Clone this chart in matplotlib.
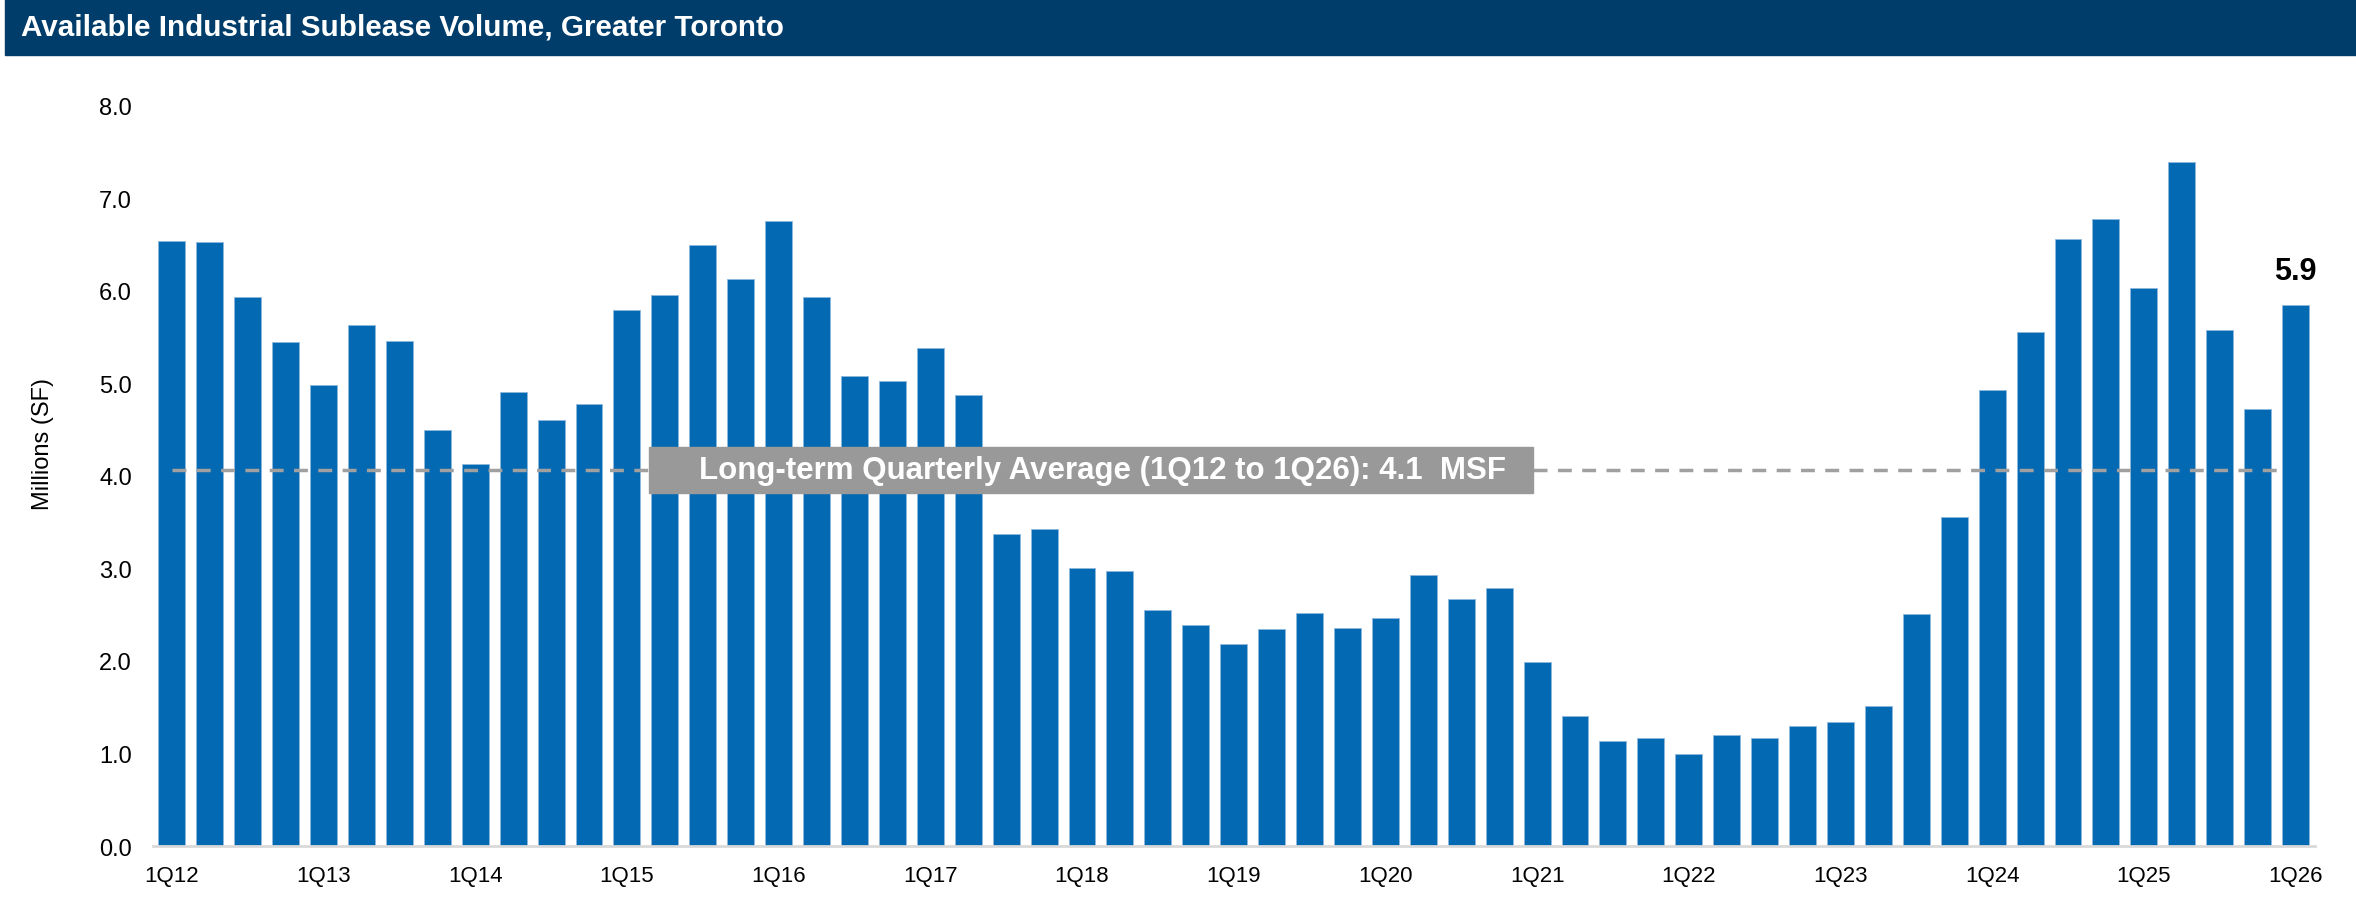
import matplotlib
matplotlib.use("Agg")
import matplotlib.pyplot as plt
import numpy as np
from matplotlib.patches import Rectangle

plt.rcParams['font.family'] = ['Liberation Sans', 'DejaVu Sans']

# data (millions of SF)
quarters = [f"{q}Q{y}" for y in range(12, 26) for q in range(1, 5)] + ["1Q26"]
volume = [6.54, 6.53, 5.93, 5.45, 4.98, 5.63, 5.46, 4.49,
          4.13, 4.91, 4.60, 4.78, 5.79, 5.95, 6.49, 6.13,
          6.75, 5.93, 5.08, 5.02, 5.38, 4.87, 3.37, 3.42,
          3.00, 2.97, 2.55, 2.39, 2.18, 2.35, 2.52, 2.36,
          2.46, 2.93, 2.67, 2.79, 1.99, 1.40, 1.14, 1.17,
          0.99, 1.20, 1.17, 1.30, 1.34, 1.51, 2.51, 3.56,
          4.93, 5.55, 6.56, 6.77, 6.03, 7.39, 5.57, 4.72,
          5.85]
yticks = [0, 1, 2, 3, 4, 5, 6, 7, 8]
last_label = "5.9"
avg_label = "Long-term Quarterly Average (1Q12 to 1Q26): 4.1  MSF"

fig = plt.figure(figsize=(23.56, 9.2), dpi=100)

# title banner
fig.patches.append(Rectangle((0.002, 1 - 56 / 920), 0.998, 56 / 920,
                             transform=fig.transFigure, color="#003D6A", zorder=0))
fig.text(0.009, 1 - 28 / 920, "Available Industrial Sublease Volume, Greater Toronto",
         color="white", fontsize=21.3, fontweight="bold", va="center", ha="left")

ax = fig.add_axes([0.0649, 0.0793, 0.9824 - 0.0649, 0.8842 - 0.0793])
x = np.arange(len(volume))
ax.bar(x, volume, width=0.71, color="#0469B3", edgecolor="#8DB8DF", linewidth=0.6, zorder=2)

# long-term average line + label box
avg = np.mean(volume)
ax.plot([0, len(volume) - 1.4], [avg, avg], color="#A0A0A0", lw=2.5,
        dashes=(4, 3), zorder=3)
yc = avg / 8
ax.add_patch(Rectangle((0.2295, yc - 0.031), 0.6386 - 0.2295, 0.062,
                       transform=ax.transAxes, color="#999999", zorder=4))
ax.text(0.626, yc, avg_label, transform=ax.transAxes, ha="right", va="center",
        color="white", fontsize=22.5, fontweight="bold", zorder=5)

# label on last bar
ax.text(x[-1], volume[-1] + 0.2, last_label, ha="center", va="bottom",
        fontsize=22, fontweight="bold", color="black")

ax.set_xlim(-0.5, len(volume) - 0.5)
ax.set_ylim(0, 8)
ax.set_yticks(yticks)
ax.set_yticklabels([f"{v:.1f}" for v in yticks])
ax.set_xticks(x[::4])
ax.set_xticklabels(quarters[::4])
ax.tick_params(axis="y", length=0, pad=15, labelsize=17)
ax.tick_params(axis="x", length=0, pad=14, labelsize=16)
for s in ["top", "right", "left"]:
    ax.spines[s].set_visible(False)
ax.spines["bottom"].set_color("#D9D9D9")
ax.spines["bottom"].set_linewidth(2)

fig.text(43 / 2356, 1 - 444 / 920, "Millions (SF)", rotation=90, ha="center",
         va="center", fontsize=17)

fig.savefig("out.png", dpi=100)
